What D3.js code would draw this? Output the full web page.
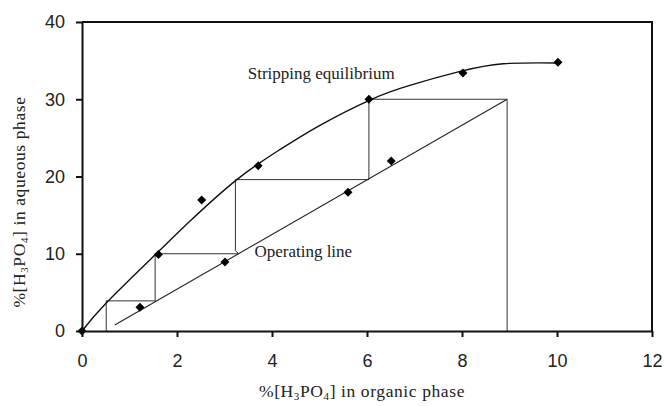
<!DOCTYPE html>
<html lang="en">
<head>
  <meta charset="UTF-8">
  <title>Stripping McCabe-Thiele diagram</title>
  <style>
    body {
      margin: 0;
      padding: 0;
      background: #fff;
    }
    .tick text {
      font-family: "Liberation Sans", Arial, sans-serif;
      font-size: 18px;
      fill: #222;
    }
    .lbl {
      font-family: "Liberation Serif", "Times New Roman", serif;
      fill: #222;
    }
  </style>
</head>
<body>
  <svg id="chart" width="666" height="406"></svg>

  <script src="https://d3js.org/d3.v7.min.js"></script>
  <script>
    // measured points (organic %, aqueous %)
    const eqX = [0, 1.22, 1.61, 2.52, 3.01, 3.71, 5.6, 6.04, 6.51, 8.02, 10.02];
    const eqY = [0, 3.07, 9.9, 16.96, 8.93, 21.4, 17.95, 30.0, 22.0, 33.4, 34.8];

    // equilibrium trend curve
    const curveX = [0, 0.52, 1.57, 2.27, 3.26, 4.17, 5.0, 6.06, 6.9, 7.96, 8.87, 10.0];
    const curveY = [0, 3.7, 10.05, 14.2, 19.6, 23.5, 26.6, 29.9, 31.8, 33.6, 34.6, 34.7];

    // operating line end points
    const opX = [0.69, 8.95];
    const opY = [0.78, 30.0];

    // stage staircase
    const stepX = [0.51, 0.51, 1.54, 1.54, 3.3, 3.23, 3.23, 6.04, 6.04, 8.95, 8.95];
    const stepY = [0, 3.9, 3.9, 10.0, 10.0, 10.4, 19.6, 19.6, 30.0, 30.0, 0];

    const xTicks = [0, 2, 4, 6, 8, 10, 12];
    const yTicks = [0, 10, 20, 30, 40];

    const margin = { top: 22, right: 14, bottom: 75, left: 82 };
    const W = 666, H = 406;
    const w = W - margin.left - margin.right;
    const h = H - margin.top - margin.bottom;

    const svg = d3.select("#chart");
    const g = svg.append("g").attr("transform", `translate(${margin.left},${margin.top})`);

    const x = d3.scaleLinear().domain([0, 12]).range([0, w]);
    const y = d3.scaleLinear().domain([0, 40]).range([h, 0]);

    // frame (top + right)
    g.append("path")
      .attr("d", `M0,0H${w}V${h}`)
      .attr("fill", "none")
      .attr("stroke", "#111")
      .attr("stroke-width", 2);

    const pts = (xs, ys) => xs.map((v, i) => [v, ys[i]]);
    const line = d3.line().x(d => x(d[0])).y(d => y(d[1]));

    // staircase
    g.append("path")
      .datum(pts(stepX, stepY))
      .attr("d", line)
      .attr("fill", "none")
      .attr("stroke", "#333")
      .attr("stroke-width", 1);

    // operating line
    g.append("path")
      .datum(pts(opX, opY))
      .attr("d", line)
      .attr("fill", "none")
      .attr("stroke", "#222")
      .attr("stroke-width", 1.1);

    // equilibrium curve
    const smooth = d3.line().x(d => x(d[0])).y(d => y(d[1])).curve(d3.curveNatural);
    g.append("path")
      .datum(pts(curveX, curveY))
      .attr("d", smooth)
      .attr("fill", "none")
      .attr("stroke", "#111")
      .attr("stroke-width", 1.4);

    // markers
    g.selectAll("path.pt")
      .data(pts(eqX, eqY))
      .enter()
      .append("path")
        .attr("class", "pt")
        .attr("d", d3.symbol(d3.symbolSquare, 40))
        .attr("transform", d => `translate(${x(d[0])},${y(d[1])}) rotate(45)`)
        .attr("fill", "#000");

    // axes
    const xAxis = g.append("g")
      .attr("transform", `translate(0,${h})`)
      .call(d3.axisBottom(x).tickValues(xTicks).tickSize(6).tickSizeOuter(0).tickPadding(17));
    const yAxis = g.append("g")
      .call(d3.axisLeft(y).tickValues(yTicks).tickSize(6).tickSizeOuter(0).tickPadding(11));
    [xAxis, yAxis].forEach(a => {
      a.select(".domain").attr("stroke", "#111").attr("stroke-width", 2);
      a.selectAll(".tick line").attr("stroke", "#111").attr("stroke-width", 2);
    });

    // in-plot labels
    g.append("text")
      .attr("class", "lbl")
      .attr("x", x(3.49))
      .attr("y", y(32.6))
      .style("font-size", "17px")
      .text("Stripping equilibrium");

    g.append("text")
      .attr("class", "lbl")
      .attr("x", x(3.63))
      .attr("y", y(9.55))
      .style("font-size", "17px")
      .text("Operating line");

    // axis titles with subscripts
    function title(sel) {
      sel.append("tspan").text("%[H");
      sel.append("tspan").attr("dy", 3).style("font-size", "11px").text("3");
      sel.append("tspan").attr("dy", -3).text("PO");
      sel.append("tspan").attr("dy", 3).style("font-size", "11px").text("4");
      sel.append("tspan").attr("dy", -3).text("] in ");
    }

    const xt = svg.append("text")
      .attr("class", "lbl")
      .attr("x", 362)
      .attr("y", 397)
      .attr("text-anchor", "middle")
      .style("font-size", "17.5px")
      .style("letter-spacing", "0.6px");
    title(xt);
    xt.append("tspan").text("organic phase");

    const yt = svg.append("text")
      .attr("class", "lbl")
      .attr("transform", "translate(25,202) rotate(-90)")
      .attr("text-anchor", "middle")
      .style("font-size", "17.5px")
      .style("letter-spacing", "0.6px");
    title(yt);
    yt.append("tspan").text("aqueous phase");
  </script>
</body>
</html>
